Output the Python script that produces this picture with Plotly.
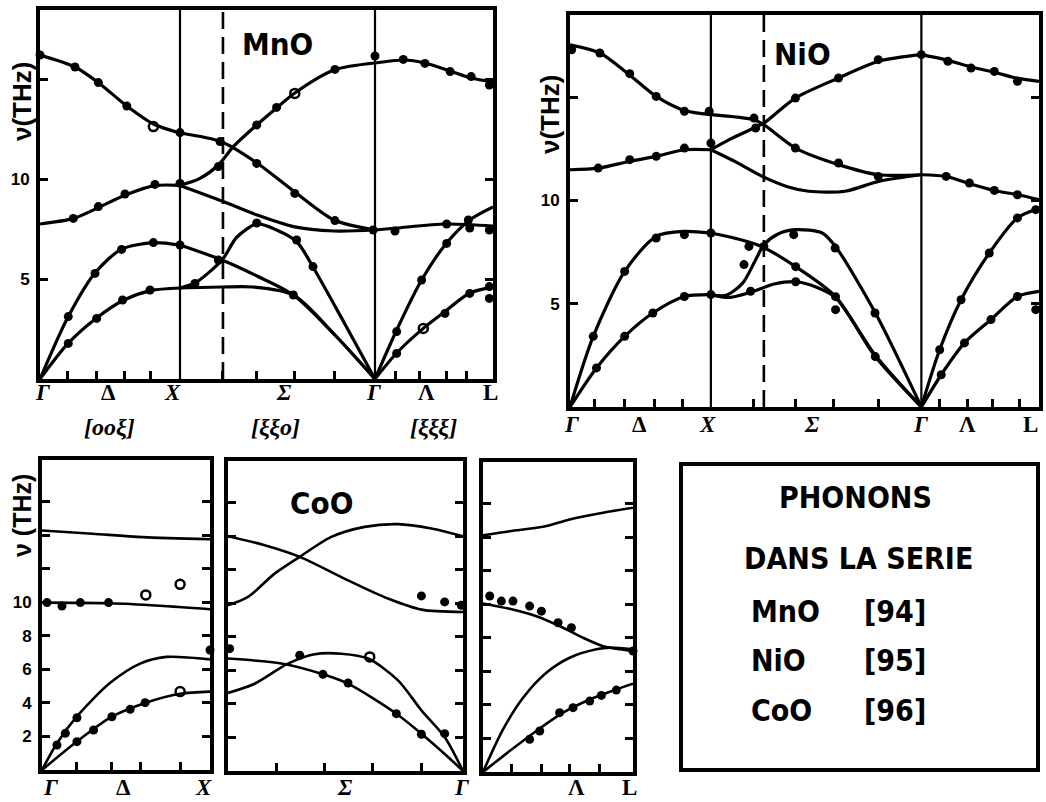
import plotly.graph_objects as go

# ---------------- DATA (x: reduced wave-vector path, y: frequency in THz) ----------------
# MnO : Gamma=0, X=1.0, K(dashed)=1.307, Gamma=2.393, L=3.236
MNO_SYM = ["<i>Γ</i>", "Δ", "<i>X</i>", "<i>Σ</i>", "<i>Γ</i>", "Λ", "L"]
MNO_SYM_POS = [0.02, 0.486, 0.95, 1.736, 2.38, 2.76, 3.22]
MNO_DIR = ["<i>[ooξ]</i>", "<i>[ξξo]</i>", "<i>[ξξξ]</i>"]
MNO_DIR_POS = [0.5, 1.68, 2.81]
MNO_VLINES = [1.0, 2.393]
MNO_KLINE = 1.307
MNO_XTICKS = [0.193, 0.407, 0.607, 0.786, 1.307, 1.55, 1.82, 2.107, 2.536, 2.714, 2.907, 3.05]

mno_A_delta = [(0, 16.2), (0.25, 15.6), (0.42, 14.8), (0.62, 13.65), (0.81, 12.75), (1.0, 12.3)]
mno_A_sigma = [(1.0, 12.3), (1.3, 11.85), (1.55, 10.8), (1.82, 9.35), (2.1, 7.95), (2.393, 7.45)]
mno_B_delta = [(0, 7.75), (0.24, 8.03), (0.42, 8.58), (0.61, 9.2), (0.82, 9.67), (1.0, 9.68)]
mno_B1_sigma = [(1.0, 9.68), (1.143, 10.03), (1.274, 10.7), (1.381, 11.62), (1.548, 12.7),
                (1.69, 13.55), (1.82, 14.3), (2.1, 15.45), (2.393, 15.8)]
mno_B1_lambda = [(2.393, 15.8), (2.6, 15.95), (2.75, 15.8), (2.93, 15.4), (3.08, 15.05), (3.236, 14.85)]
mno_B2_sigma = [(1.0, 9.68), (1.3, 8.9), (1.55, 8.2), (1.81, 7.62), (2.1, 7.4), (2.393, 7.45)]
mno_TO_lambda = [(2.393, 7.45), (2.55, 7.55), (2.9, 7.75), (3.236, 7.65)]
mno_LA_delta = [(0, 0), (0.2, 3.1), (0.39, 5.28), (0.58, 6.48), (0.81, 6.82), (1.0, 6.7)]
mno_LA_sigma = [(1.0, 6.7), (1.3, 5.95), (1.55, 5.15), (1.81, 4.2), (2.1, 2.25), (2.393, 0)]
mno_TA_delta = [(0, 0), (0.2, 1.78), (0.4, 3.03), (0.6, 3.95), (0.79, 4.42), (1.0, 4.55)]
mno_TA_sigma = [(1.0, 4.55), (1.3, 4.6), (1.52, 4.6), (1.81, 4.2), (2.1, 2.25), (2.393, 0)]
mno_R_sigma = [(1.0, 4.55), (1.107, 4.8), (1.3, 5.95), (1.407, 7.1), (1.55, 7.75), (1.69, 7.45),
               (1.836, 6.85), (1.95, 5.6), (2.17, 2.85), (2.393, 0)]
mno_LA_lambda = [(2.393, 0), (2.548, 2.45), (2.726, 4.95), (2.905, 6.8), (3.07, 7.95), (3.236, 8.6)]
mno_TA_lambda = [(2.393, 0), (2.548, 1.3), (2.738, 2.53), (2.88, 3.3), (3.07, 4.3), (3.236, 4.6)]

mno_dots = [(0, 16.2), (0.25, 15.6), (0.417, 14.82), (0.62, 13.65), (1.0, 12.32), (1.286, 11.87),
            (1.274, 10.62), (1.548, 10.78), (1.548, 12.7), (1.69, 13.58), (2.107, 15.48), (2.393, 16.15),
            (2.595, 15.98), (2.75, 15.78), (2.93, 15.37), (3.08, 15.12), (3.21, 14.7),
            (0.238, 8.03), (0.417, 8.62), (0.607, 9.25), (0.821, 9.73), (1.0, 9.78), (1.82, 9.28),
            (2.107, 7.92), (2.38, 7.45), (2.536, 7.4), (2.905, 7.75), (3.06, 7.95), (3.07, 7.55), (3.21, 7.45),
            (0.202, 3.12), (0.393, 5.28), (0.583, 6.48), (0.81, 6.82), (1.0, 6.7), (1.274, 5.95),
            (1.548, 7.8), (1.833, 6.95), (1.95, 5.62), (1.81, 4.2), (1.107, 4.78), (0.59, 3.95),
            (0.786, 4.45), (0.202, 1.78), (0.405, 3.03),
            (2.548, 2.37), (2.726, 4.95), (2.905, 6.78), (2.548, 1.28), (2.893, 3.28), (3.07, 4.28),
            (3.21, 4.62), (3.21, 4.03)]
mno_open = [(0.81, 12.62), (1.82, 14.28), (2.738, 2.53)]

# NiO : Gamma=0, X=1.0, K(dashed)=1.376, Gamma=2.494, L=3.329
NIO_SYM = ["<i>Γ</i>", "Δ", "<i>X</i>", "<i>Σ</i>", "<i>Γ</i>", "Λ", "L"]
NIO_SYM_POS = [0.014, 0.494, 0.974, 1.715, 2.49, 2.823, 3.27]
NIO_VLINES = [1.0, 2.494]
NIO_KLINE = 1.376
NIO_XTICKS = [0.176, 0.388, 0.6, 0.8, 1.306, 1.6, 1.87, 2.188, 2.624, 2.824, 3.0, 3.188]

nio_A_delta = [(0, 17.53), (0.212, 17.13), (0.412, 16.13), (0.612, 15.03), (0.812, 14.35), (1.0, 14.15)]
nio_A_sigma = [(1.0, 14.15), (1.306, 13.9), (1.376, 13.66), (1.6, 12.53), (1.906, 11.73), (2.19, 11.24), (2.494, 11.24)]
nio_A_lambda = [(2.494, 11.24), (2.67, 11.16), (2.82, 10.84), (3.01, 10.48), (3.18, 10.27), (3.329, 10.03)]
nio_B_delta = [(0, 11.48), (0.2, 11.56), (0.424, 11.89), (0.612, 12.13), (0.812, 12.45), (1.0, 12.45)]
nio_B1_sigma = [(1.0, 12.45), (1.13, 12.94), (1.306, 13.5), (1.376, 13.74), (1.6, 14.95), (1.906, 15.92),
                (2.19, 16.73), (2.494, 17.05)]
nio_B1_lambda = [(2.494, 17.05), (2.67, 16.8), (2.85, 16.45), (3.01, 16.2), (3.18, 15.9), (3.329, 15.76)]
nio_B2_sigma = [(1.0, 12.45), (1.18, 11.85), (1.365, 11.16), (1.55, 10.65), (1.694, 10.44), (1.953, 10.44),
                (2.19, 10.92), (2.494, 11.24)]
nio_LA_delta = [(0, 0), (0.165, 3.42), (0.388, 6.56), (0.612, 8.26), (0.812, 8.5), (1.0, 8.42)]
nio_LA_sigma = [(1.0, 8.42), (1.18, 8.15), (1.362, 7.76), (1.602, 6.79), (1.885, 5.34), (2.167, 2.44), (2.494, 0)]
nio_TA_delta = [(0, 0), (0.188, 1.89), (0.388, 3.42), (0.588, 4.55), (0.812, 5.35), (1.0, 5.44)]
nio_TA_sigma = [(1.0, 5.44), (1.13, 5.3), (1.282, 5.55), (1.45, 5.95), (1.602, 6.06), (1.75, 5.8),
                (1.885, 5.3), (2.167, 2.5), (2.494, 0)]
nio_R_sigma = [(1.0, 5.44), (1.106, 5.4), (1.224, 5.98), (1.318, 7.13), (1.376, 7.85), (1.47, 8.35),
               (1.6, 8.58), (1.79, 8.42), (1.885, 7.76), (2.167, 4.56), (2.494, 0)]
nio_LA_lambda = [(2.494, 0), (2.624, 2.77), (2.776, 5.19), (2.976, 7.45), (3.176, 9.15), (3.329, 9.6)]
nio_TA_lambda = [(2.494, 0), (2.635, 1.56), (2.8, 3.1), (2.988, 4.23), (3.176, 5.35), (3.329, 5.6)]

nio_dots = [(0.012, 17.29), (0.212, 17.13), (0.424, 16.13), (0.612, 15.03), (0.812, 14.31), (0.988, 14.31),
            (1.306, 13.98), (1.318, 13.5), (1.6, 14.95), (1.906, 15.92), (2.188, 16.81), (2.494, 17.05),
            (2.682, 16.73), (2.847, 16.4), (3.012, 16.24), (3.176, 15.76),
            (0.2, 11.56), (0.424, 11.97), (0.612, 12.13), (0.812, 12.53), (1.0, 12.77), (1.6, 12.53),
            (1.906, 11.81), (2.188, 11.16), (2.67, 11.16), (2.835, 10.84), (3.012, 10.48), (3.176, 10.27),
            (0.165, 3.42), (0.388, 6.56), (0.612, 8.18), (0.812, 8.34), (1.0, 8.42), (1.27, 7.77),
            (1.235, 6.89), (1.376, 7.77), (1.588, 8.34), (1.882, 7.69), (2.165, 4.55), (1.602, 6.79),
            (1.885, 5.34), (1.885, 4.71), (2.167, 2.44), (1.602, 6.06), (1.282, 5.6),
            (0.188, 1.89), (0.388, 3.42), (0.588, 4.55), (0.812, 5.35), (1.0, 5.44),
            (2.624, 2.77), (2.776, 5.19), (2.976, 7.45), (3.176, 9.15), (3.306, 9.55),
            (2.635, 1.56), (2.8, 3.1), (2.988, 4.23), (3.176, 5.35), (3.306, 4.71)]

# CoO : three separate panels  Gamma-X (0..1), X-Gamma (1..2.396), Gamma-L (2.396..3.287)
COO_D_SYM = ["<i>Γ</i>", "Δ", "<i>X</i>"]
COO_D_SYM_POS = [0.05, 0.483, 0.96]
COO_S_SYM = ["<i>Σ</i>", "<i>Γ</i>"]
COO_S_SYM_POS = [1.693, 2.387]
COO_L_SYM = ["Λ", "L"]
COO_L_SYM_POS = [2.951, 3.268]
COO_D_XTICKS = [0.204, 0.416, 0.588, 0.822]
COO_S_XTICKS = [1.287, 1.574, 1.861, 2.149]
COO_L_XTICKS = [2.564, 2.743, 2.911, 3.089]
COO_YTICKS = [2, 4, 6, 8, 10, 12, 14, 16]
COO_YTICKTEXT = ["2", "4", "6", "8", "10", "", "", ""]

coo_d_top = [(0, 14.29), (0.3, 14.1), (0.6, 13.9), (1.0, 13.77)]
coo_d_mid = [(0, 9.99), (0.406, 9.95), (0.7, 9.8), (1.0, 9.59)]
coo_d_LA = [(0, 0), (0.089, 1.6), (0.208, 3.2), (0.406, 5.2), (0.584, 6.35), (0.74, 6.75), (1.0, 6.6)]
coo_d_TA = [(0, 0), (0.208, 1.7), (0.416, 3.18), (0.614, 4.0), (0.822, 4.55), (1.0, 4.68)]
coo_s_1 = [(1.0, 14.01), (1.218, 13.47), (1.426, 12.78), (1.713, 11.38), (1.95, 10.29), (2.149, 9.63), (2.396, 9.49)]
coo_s_2 = [(1.0, 9.89), (1.119, 10.39), (1.277, 11.78), (1.426, 12.78), (1.614, 13.97), (1.812, 14.57),
           (2.01, 14.73), (2.208, 14.47), (2.396, 14.01)]
coo_s_3 = [(1.0, 6.71), (1.317, 6.41), (1.564, 5.77), (1.713, 5.21), (2.0, 3.42), (2.149, 2.23), (2.307, 0.84), (2.396, 0)]
coo_s_4 = [(1.0, 4.66), (1.158, 5.21), (1.356, 6.41), (1.515, 6.97), (1.673, 7.0), (1.832, 6.71), (2.01, 5.41),
           (2.149, 3.62), (2.287, 2.03), (2.396, 0)]
coo_l_top = [(2.396, 14.12), (2.554, 14.37), (2.752, 14.63), (2.911, 15.07), (3.109, 15.47), (3.287, 15.77)]
coo_l_mid = [(2.396, 10.06), (2.554, 9.74), (2.713, 9.3), (2.851, 8.71), (2.99, 8.01), (3.109, 7.51), (3.208, 7.32), (3.287, 7.22)]
coo_l_LA = [(2.396, 0), (2.515, 2.54), (2.634, 4.43), (2.772, 5.92), (2.911, 6.82), (3.069, 7.32), (3.149, 7.42), (3.287, 7.32)]
coo_l_TA = [(2.396, 0), (2.554, 1.25), (2.713, 2.45), (2.871, 3.54), (3.03, 4.33), (3.188, 4.93), (3.287, 5.27)]

coo_d_dots = [(0.03, 9.99), (0.119, 9.79), (0.228, 9.99), (0.396, 9.99), (1.0, 7.16), (0.089, 1.49), (0.139, 2.19),
              (0.208, 3.12), (0.208, 1.69), (0.307, 2.39), (0.416, 3.18), (0.525, 3.62), (0.614, 4.02)]
coo_d_open = [(0.618, 10.45), (0.822, 11.08), (0.822, 4.68)]
coo_s_dots = [(1.01, 7.3), (2.149, 10.45), (2.287, 10.09), (2.386, 9.89), (1.426, 6.91), (1.564, 5.77),
              (1.713, 5.25), (2.0, 3.42), (2.149, 2.19), (2.287, 2.23)]
coo_s_open = [(1.842, 6.81)]
coo_l_dots = [(2.436, 10.5), (2.505, 10.2), (2.574, 10.2), (2.673, 9.9), (2.743, 9.6), (2.842, 8.91), (2.921, 8.61),
              (3.287, 7.22), (2.673, 1.95), (2.733, 2.45), (2.851, 3.54), (2.931, 3.84), (3.03, 4.23),
              (3.099, 4.57), (3.188, 4.89)]

LEGEND_TITLE = ["PHONONS", "DANS LA SERIE"]
LEGEND_NAMES = ["MnO", "NiO", "CoO"]
LEGEND_REFS = ["[94]", "[95]", "[96]"]

# ---------------- FIGURE ----------------
W, H = 1046, 802
BOLD_NARROW = "Liberation Sans Narrow, Arial Narrow, DejaVu Sans Condensed, sans-serif"
SANS = "Liberation Sans, Arial, sans-serif"
SERIF = "Liberation Serif, DejaVu Serif, serif"


def px(x):
    return x / W


def py(y):
    return 1 - y / H


fig = go.Figure()


def curve(pts, ax, width=3.0):
    fig.add_trace(go.Scatter(x=[p[0] for p in pts], y=[p[1] for p in pts], mode="lines",
                             line=dict(color="black", width=width, shape="spline", smoothing=0.8),
                             xaxis="x" + ax, yaxis="y" + ax, showlegend=False, hoverinfo="skip"))


def dots(pts, ax, size=9, open_=False):
    fig.add_trace(go.Scatter(x=[p[0] for p in pts], y=[p[1] for p in pts], mode="markers",
                             marker=dict(color="black", size=size,
                                         symbol="circle-open" if open_ else "circle",
                                         line=dict(color="black", width=2.5 if open_ else 0)),
                             xaxis="x" + ax, yaxis="y" + ax, showlegend=False, cliponaxis=False,
                             hoverinfo="skip"))


for c in [mno_A_delta, mno_A_sigma, mno_B_delta, mno_B1_sigma, mno_B1_lambda, mno_B2_sigma, mno_TO_lambda,
          mno_LA_delta, mno_LA_sigma, mno_TA_delta, mno_TA_sigma, mno_R_sigma, mno_LA_lambda, mno_TA_lambda]:
    curve(c, "", 3.2)
dots(mno_dots, "")
dots(mno_open, "", open_=True)

for c in [nio_A_delta, nio_A_sigma, nio_A_lambda, nio_B_delta, nio_B1_sigma, nio_B1_lambda, nio_B2_sigma,
          nio_LA_delta, nio_LA_sigma, nio_TA_delta, nio_TA_sigma, nio_R_sigma, nio_LA_lambda, nio_TA_lambda]:
    curve(c, "2", 3.2)
dots(nio_dots, "2")

for c in [coo_d_top, coo_d_mid, coo_d_LA, coo_d_TA]:
    curve(c, "3", 2.6)
dots(coo_d_dots, "3")
dots(coo_d_open, "3", open_=True)
for c in [coo_s_1, coo_s_2, coo_s_3, coo_s_4]:
    curve(c, "4", 2.6)
dots(coo_s_dots, "4")
dots(coo_s_open, "4", open_=True)
for c in [coo_l_top, coo_l_mid, coo_l_LA, coo_l_TA]:
    curve(c, "5", 2.6)
dots(coo_l_dots, "5")


def xax(dom, rng, ticks, anchor):
    return dict(domain=dom, range=rng, anchor=anchor, showgrid=False, zeroline=False, showline=True,
                linecolor="black", linewidth=4, mirror=True, ticks="inside", tickvals=ticks,
                ticklen=8, tickwidth=3, tickcolor="black", showticklabels=False, fixedrange=True)


def yax(dom, rng, tv, tt, anchor, labels=True):
    return dict(domain=dom, range=rng, anchor=anchor, showgrid=False, zeroline=False, showline=True,
                linecolor="black", linewidth=4, mirror="ticks", ticks="inside", tickvals=tv,
                ticktext=["<b>%s</b>" % t if t else "" for t in tt],
                ticklen=8, tickwidth=3, tickcolor="black", showticklabels=labels, ticklabelstandoff=3,
                tickfont=dict(family=SANS, size=17, color="black"),
                fixedrange=True)


fig.update_layout(
    width=W, height=H, margin=dict(l=0, r=0, t=0, b=0),
    paper_bgcolor="white", plot_bgcolor="white",
    xaxis=xax([px(40), px(493)], [0, 3.236], MNO_XTICKS, "y"),
    yaxis=yax([py(379), py(10)], [0, 18.45], [5, 10, 15], ["5", "10", ""], "x"),
    xaxis2=xax([px(570), px(1039)], [0, 3.329], NIO_XTICKS, "y2"),
    yaxis2=yax([py(407), py(15)], [0, 18.97], [5, 10, 15], ["5", "10", ""], "x2"),
    xaxis3=xax([px(42), px(210)], [0, 1.0], COO_D_XTICKS, "y3"),
    yaxis3=yax([py(770), py(460)], [0, 18.5], COO_YTICKS, COO_YTICKTEXT, "x3"),
    xaxis4=xax([px(228), px(463)], [1.0, 2.396], COO_S_XTICKS, "y4"),
    yaxis4=yax([py(771), py(461)], [0, 18.5], COO_YTICKS, COO_YTICKTEXT, "x4", labels=False),
    xaxis5=xax([px(483), px(633)], [2.396, 3.287], COO_L_XTICKS, "y5"),
    yaxis5=yax([py(772), py(462)], [0, 18.5], COO_YTICKS, COO_YTICKTEXT, "x5", labels=False),
)

shapes = []
for xv in MNO_VLINES:
    shapes.append(dict(type="line", xref="x", yref="y domain", x0=xv, x1=xv, y0=0, y1=1,
                       line=dict(color="black", width=2.2)))
shapes.append(dict(type="line", xref="x", yref="y domain", x0=MNO_KLINE, x1=MNO_KLINE, y0=0, y1=1,
                   line=dict(color="black", width=2.6, dash="17px,8px")))
for xv in NIO_VLINES:
    shapes.append(dict(type="line", xref="x2", yref="y2 domain", x0=xv, x1=xv, y0=0, y1=1,
                       line=dict(color="black", width=2.2)))
shapes.append(dict(type="line", xref="x2", yref="y2 domain", x0=NIO_KLINE, x1=NIO_KLINE, y0=0, y1=1,
                   line=dict(color="black", width=2.6, dash="17px,8px")))
# legend box
shapes.append(dict(type="rect", xref="paper", yref="paper", x0=px(681), x1=px(1038), y0=py(770), y1=py(464),
                   line=dict(color="black", width=4)))
fig.update_layout(shapes=shapes)

ann = []


def label(text, x, y, xref, yref, size, family, xanchor="center", angle=0):
    ann.append(dict(text="<b>%s</b>" % text, x=x, y=y, xref=xref, yref=yref, showarrow=False,
                    xanchor=xanchor, yanchor="middle", textangle=angle,
                    font=dict(family=family, size=size, color="black")))


# symmetry labels
for t, xv in zip(MNO_SYM, MNO_SYM_POS):
    label(t, xv, py(392), "x", "paper", 23, SERIF)
for t, xv in zip(MNO_DIR, MNO_DIR_POS):
    label(t, xv, py(427), "x", "paper", 24, SERIF)
for t, xv in zip(NIO_SYM, NIO_SYM_POS):
    label(t, xv, py(424), "x2", "paper", 23, SERIF)
for t, xv in zip(COO_D_SYM, COO_D_SYM_POS):
    label(t, xv, py(787), "x3", "paper", 23, SERIF)
for t, xv in zip(COO_S_SYM, COO_S_SYM_POS):
    label(t, xv, py(787), "x4", "paper", 23, SERIF)
for t, xv in zip(COO_L_SYM, COO_L_SYM_POS):
    label(t, xv, py(787), "x5", "paper", 23, SERIF)

# panel titles
label("MnO", px(277), py(44), "paper", "paper", 31, BOLD_NARROW)
label("NiO", px(802), py(54), "paper", "paper", 31, BOLD_NARROW)
label("CoO", px(321), py(503), "paper", "paper", 31, BOLD_NARROW)

# y-axis titles
label("ν(THz)", px(22), py(102), "paper", "paper", 26, SANS, angle=-90)
label("ν(THz)", px(550), py(115), "paper", "paper", 26, SANS, angle=-90)
label("ν (THz)", px(22), py(516), "paper", "paper", 25, SANS, angle=-90)

# legend box text
label(LEGEND_TITLE[0], px(855), py(497), "paper", "paper", 30, BOLD_NARROW)
label(LEGEND_TITLE[1], px(858), py(558), "paper", "paper", 30, BOLD_NARROW)
for i, (n, r) in enumerate(zip(LEGEND_NAMES, LEGEND_REFS)):
    yy = [611, 660, 710][i]
    label(n, px(749), py(yy), "paper", "paper", 30, BOLD_NARROW, xanchor="left")
    label(r, px(862), py(yy), "paper", "paper", 30, BOLD_NARROW, xanchor="left")

fig.update_layout(annotations=ann)
fig.write_html("out.html", config={"displayModeBar": False},
               post_script="document.body.style.margin='0px';document.body.style.overflow='hidden';")
